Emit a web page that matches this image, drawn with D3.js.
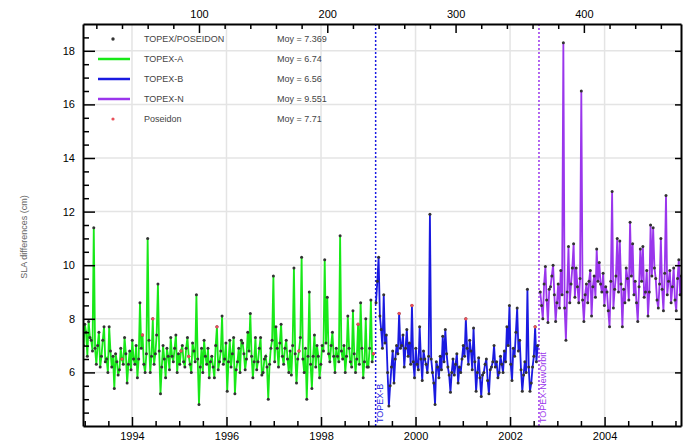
<!DOCTYPE html>
<html lang="en">
<head>
<meta charset="UTF-8">
<title>SLA differences</title>
<script src="https://d3js.org/d3.v7.min.js"></script>
<style>
  body { margin: 0; background: #fff; }
  svg { display: block; font-family: "Liberation Sans", Arial, sans-serif; }
  .axis .domain { stroke: #000; stroke-width: 2px; }
  .axis line { stroke: #000; stroke-width: 1.5px; }
  .axis text { font-size: 11px; fill: #000; }
  .grid line { stroke: #e4e4e4; stroke-width: 1.5px; }
</style>
</head>
<body>
<svg id="chart" width="683" height="444"></svg>
<script>
// cycle number of the first point of each series, one point per cycle
const startA = 10, startB = 238, startN = 366, step = 1;

const topexA = [7.0, 7.8, 7.5, 6.6, 7.9, 7.3, 7.2, 6.8, 11.4, 6.9, 6.3, 7.0, 7.5, 6.2, 6.6, 7.2,
  7.7, 6.4, 6.5, 6.0, 7.7, 6.8, 6.2, 6.6, 5.4, 6.7, 6.4, 5.9, 6.1, 6.9, 6.5, 6.3,
  7.3, 6.7, 5.6, 6.3, 6.8, 6.1, 7.2, 6.5, 6.3, 7.0, 5.8, 6.5, 8.6, 6.9, 7.4, 6.3,
  6.0, 6.7, 11.0, 7.2, 6.0, 6.6, 8.0, 6.3, 6.7, 7.4, 9.3, 6.8, 5.2, 6.2, 7.0, 6.5,
  5.8, 6.9, 6.6, 6.1, 7.3, 6.6, 6.4, 6.9, 7.4, 6.0, 6.7, 6.3, 6.8, 7.0, 6.4, 6.2,
  6.9, 7.3, 6.6, 6.3, 6.0, 7.1, 6.8, 6.4, 8.9, 6.5, 4.8, 6.2, 6.9, 6.0, 7.2, 6.6,
  6.3, 6.9, 5.8, 6.4, 6.6, 6.2, 5.8, 7.0, 7.7, 6.1, 6.4, 6.8, 8.1, 6.3, 6.5, 7.1,
  5.3, 6.4, 7.2, 6.2, 6.7, 7.3, 5.2, 6.1, 6.4, 6.9, 6.0, 7.2, 7.1, 6.7, 6.1, 6.5,
  7.5, 6.8, 8.2, 6.6, 5.8, 6.4, 7.3, 6.1, 6.4, 6.9, 7.3, 5.9, 6.0, 6.5, 6.6, 6.2,
  5.0, 6.3, 6.9, 7.2, 9.6, 6.4, 7.7, 6.9, 6.2, 7.1, 7.8, 6.6, 6.3, 6.9, 7.2, 6.5,
  6.0, 6.8, 5.9, 7.0, 9.9, 6.7, 5.6, 6.5, 6.8, 7.3, 10.3, 6.5, 6.0, 6.9, 5.0, 6.6,
  9.0, 6.3, 5.4, 6.6, 7.4, 6.2, 7.0, 6.6, 5.8, 6.3, 7.0, 6.8, 10.2, 7.1, 8.8, 6.7,
  6.4, 7.0, 7.5, 6.6, 6.0, 6.9, 6.6, 6.4, 11.1, 6.8, 6.5, 7.0, 6.0, 6.6, 8.1, 6.9,
  6.4, 6.2, 8.3, 6.7, 6.0, 6.5, 7.8, 6.3, 8.6, 6.9, 5.8, 6.4, 8.0, 6.2, 6.2, 6.9,
  8.7, 6.4, 6.7];

const topexB = [8.6, 9.4, 10.3, 8.1, 7.6, 6.9, 8.9, 7.1, 7.4, 6.0, 4.75, 5.5, 6.2, 6.8, 5.6, 6.5,
  7.0, 6.7, 8.2, 6.9, 7.0, 7.4, 6.2, 6.9, 7.6, 6.6, 7.1, 6.3, 8.5, 6.4, 5.8, 6.9,
  6.3, 6.1, 7.7, 6.5, 5.7, 6.8, 6.5, 6.3, 6.0, 6.6, 11.9, 6.5, 6.0, 5.6, 4.8, 6.4,
  6.2, 5.8, 6.6, 6.1, 7.35, 6.4, 7.6, 6.7, 6.2, 5.9, 5.26, 6.0, 6.5, 5.9, 6.3, 6.7,
  5.6, 6.2, 6.0, 6.5, 7.0, 6.6, 8.0, 6.9, 6.3, 7.2, 6.8, 6.1, 7.66, 6.4, 5.3, 6.0,
  6.55, 5.8, 5.1, 5.9, 6.0, 6.3, 6.5, 5.7, 5.2, 6.1, 6.2, 6.4, 7.0, 6.2, 6.4, 5.8,
  6.0, 6.6, 6.3, 6.0, 6.8, 6.4, 7.7, 7.0, 8.5, 6.3, 5.7, 6.9, 6.6, 7.5, 8.4, 6.8,
  7.2, 6.1, 5.3, 5.9, 6.4, 6.0, 9.1, 6.2, 5.3, 5.6, 6.2, 6.6, 7.7, 6.4, 7.0];

const topexN = [9.0, 8.5, 8.0, 9.3, 9.95, 8.7, 7.86, 9.1, 9.2, 9.6, 10.0, 8.9, 7.9, 8.6, 9.3, 8.4,
  9.8, 8.9, 18.3, 8.4, 7.2, 9.0, 10.7, 8.6, 9.3, 9.9, 10.8, 8.8, 9.9, 9.2, 8.6, 9.5,
  16.5, 8.7, 7.9, 8.9, 9.3, 8.6, 9.4, 9.8, 8.1, 9.2, 9.6, 8.8, 10.6, 9.4, 10.1, 9.3,
  9.0, 9.7, 8.5, 9.2, 9.0, 8.3, 7.7, 9.4, 12.75, 8.4, 9.1, 9.6, 11.0, 9.0, 10.9, 9.3,
  7.7, 9.1, 8.6, 9.9, 9.5, 8.7, 11.6, 9.6, 10.8, 8.9, 9.4, 8.6, 7.9, 9.2, 10.6, 9.4,
  10.7, 8.8, 9.0, 9.8, 8.1, 9.0, 11.5, 9.6, 11.4, 9.9, 9.5, 8.7, 8.4, 9.3, 11.0, 9.1,
  8.3, 9.7, 12.6, 8.9, 9.4, 9.8, 8.6, 9.2, 9.9, 8.7, 8.3, 9.5, 10.2, 8.9, 9.6];

const poseidonCycles = [40, 56, 64, 86, 92, 114, 178, 224, 236, 256, 266, 308, 362];

const legendNames = ["TOPEX/POSEIDON", "TOPEX-A", "TOPEX-B", "TOPEX-N", "Poseidon"];
const legendMeans = ["7.369", "6.74", "6.56", "9.551", "7.71"];
const yearTicks = [1994, 1996, 1998, 2000, 2002, 2004];
const cycleTicks = [100, 200, 300, 400];
const yTicks = [6, 8, 10, 12, 14, 16, 18];
const eventCycles = [237.7, 365];
const eventLabels = ["TOPEX-B", "TOPEX-NewOrbit"];

const colA = "#18e818", colB = "#1a1ae0", colN = "#9a36ec", colPos = "#e8505a";
const cycleDays = 9.9156, cycle0Year = 1992.703;
const toYear = c => cycle0Year + c * cycleDays / 365.25;

const L = 83, R = 681, T = 24, B = 426;
const cMin = 9.6, cMax = 475.7;
const x = d3.scaleLinear().domain([cMin, cMax]).range([L, R]);
const xYear = d3.scaleLinear().domain([toYear(cMin), toYear(cMax)]).range([L, R]);
const y = d3.scaleLinear().domain([4, 19]).range([B, T]);

const svg = d3.select("#chart");

svg.append("defs").append("clipPath").attr("id", "clip")
  .append("rect").attr("x", L).attr("y", T).attr("width", R - L).attr("height", B - T);

// grid
const grid = svg.append("g").attr("class", "grid");
grid.selectAll(".gx").data(yearTicks).join("line")
  .attr("x1", d => xYear(d)).attr("x2", d => xYear(d)).attr("y1", T).attr("y2", B);
grid.selectAll(".gy").data(yTicks).join("line")
  .attr("x1", L).attr("x2", R).attr("y1", d => y(d)).attr("y2", d => y(d));

// instrument change lines
const evCols = [colB, colN];
svg.selectAll(".ev").data(eventCycles).join("line")
  .attr("x1", d => x(d)).attr("x2", d => x(d)).attr("y1", T).attr("y2", B)
  .attr("stroke", (d, i) => evCols[i]).attr("stroke-width", 1.5).attr("stroke-dasharray", "2,2");
svg.selectAll(".evt").data(eventCycles).join("text")
  .attr("transform", d => `translate(${x(d) + 7},${B - 3}) rotate(-90)`)
  .attr("font-size", 9).attr("fill", (d, i) => evCols[i])
  .text((d, i) => eventLabels[i]);

const toPts = (vals, start) => vals.map((v, i) => ({ c: start + i * step, v }));
const series = [
  { pts: toPts(topexA, startA), col: colA },
  { pts: toPts(topexB, startB), col: colB },
  { pts: toPts(topexN, startN), col: colN }
];

const plot = svg.append("g").attr("clip-path", "url(#clip)");
const line = d3.line().x(d => x(d.c)).y(d => y(d.v));
series.forEach(s => {
  plot.append("path").datum(s.pts).attr("d", line)
    .attr("fill", "none").attr("stroke", s.col).attr("stroke-width", 1.8);
});
const allPts = series.flatMap(s => s.pts);
plot.selectAll(".pt").data(allPts).join("circle")
  .attr("cx", d => x(d.c)).attr("cy", d => y(d.v)).attr("r", 1.5).attr("fill", "#333");
const posPts = allPts.filter(d => poseidonCycles.includes(d.c));
plot.selectAll(".pp").data(posPts).join("circle")
  .attr("cx", d => x(d.c)).attr("cy", d => y(d.v)).attr("r", 1.6).attr("fill", colPos);

// axes
const minorYears = d3.range(1993, 2005.6, 0.5).filter(d => !yearTicks.includes(d));
const minorCycles = d3.range(20, cMax, 20).filter(d => !cycleTicks.includes(d));
const minorY = d3.range(4.5, 19, 0.5).filter(d => !yTicks.includes(d));
const noDomain = g => g.select(".domain").remove();

svg.append("g").attr("class", "axis").attr("transform", `translate(0,${B})`)
  .call(d3.axisBottom(xYear).tickValues(minorYears).tickSize(-5).tickFormat("")).call(noDomain);
svg.append("g").attr("class", "axis").attr("transform", `translate(0,${B})`)
  .call(d3.axisBottom(xYear).tickValues(yearTicks).tickSize(-9).tickSizeOuter(0).tickPadding(6).tickFormat(d3.format("d")));

svg.append("g").attr("class", "axis").attr("transform", `translate(0,${T})`)
  .call(d3.axisTop(x).tickValues(minorCycles).tickSize(-5).tickFormat("")).call(noDomain);
svg.append("g").attr("class", "axis").attr("transform", `translate(0,${T})`)
  .call(d3.axisTop(x).tickValues(cycleTicks).tickSize(-9).tickSizeOuter(0).tickPadding(6));

svg.append("g").attr("class", "axis").attr("transform", `translate(${L},0)`)
  .call(d3.axisLeft(y).tickValues(minorY).tickSize(-6).tickFormat("")).call(noDomain);
svg.append("g").attr("class", "axis").attr("transform", `translate(${L},0)`)
  .call(d3.axisLeft(y).tickValues(yTicks).tickSize(-12).tickSizeOuter(0).tickPadding(8));

svg.append("g").attr("class", "axis").attr("transform", `translate(${R},0)`)
  .call(d3.axisRight(y).tickValues(yTicks).tickSize(-6).tickSizeOuter(0).tickFormat(""));

// y title
svg.append("text")
  .attr("transform", `translate(27,${(T + B) / 2 + 12}) rotate(-90)`)
  .attr("text-anchor", "middle").attr("font-size", 9).attr("fill", "#666")
  .text("SLA differences (cm)");

// legend
const lg = svg.append("g").attr("font-size", 9).attr("fill", "#444");
legendNames.forEach((name, i) => {
  const yy = 39 + i * 20;
  if (i === 0) lg.append("circle").attr("cx", 113).attr("cy", yy).attr("r", 1.7).attr("fill", "#333");
  else if (i === 4) lg.append("circle").attr("cx", 113).attr("cy", yy).attr("r", 1.6).attr("fill", colPos);
  else lg.append("line").attr("x1", 98).attr("x2", 130).attr("y1", yy).attr("y2", yy)
    .attr("stroke", [colA, colB, colN][i - 1]).attr("stroke-width", 2.5);
  lg.append("text").attr("x", 144).attr("y", yy + 3).text(name);
  lg.append("text").attr("x", 277).attr("y", yy + 3).text("Moy = " + legendMeans[i]);
});
</script>
</body>
</html>
